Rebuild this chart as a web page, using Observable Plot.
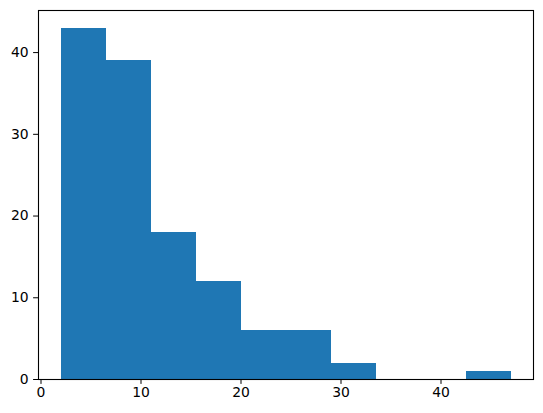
<!DOCTYPE html>
<html>
<head>
<meta charset="utf-8">
<script src="https://cdn.jsdelivr.net/npm/d3@7"></script>
<script src="https://cdn.jsdelivr.net/npm/@observablehq/plot@0.6"></script>
<style>
  html, body { margin: 0; padding: 0; background: #fff; }
  #chart svg { display: block; }
</style>
</head>
<body>
<div id="chart"></div>
<script>
const binEdges = [2, 6.5, 11, 15.5, 20, 24.5, 29, 33.5, 38, 42.5, 47];
const counts = [43, 39, 18, 12, 6, 6, 2, 0, 0, 1];
const xTicks = [0, 10, 20, 30, 40];
const yTicks = [0, 10, 20, 30, 40];

const bins = counts.map((c, i) => ({x1: binEdges[i], x2: binEdges[i + 1], count: c}));

const chart = Plot.plot({
  width: 543,
  height: 413,
  marginLeft: 38,
  marginRight: 10,
  marginTop: 10,
  marginBottom: 34,
  style: {fontFamily: "DejaVu Sans", fontSize: "13.9px", background: "#fff", color: "#000"},
  x: {domain: [-0.25, 49.25]},
  y: {domain: [0, 45.15]},
  marks: [
    Plot.rect(bins, {x1: "x1", x2: "x2", y1: 0, y2: "count", fill: "#1f77b4", shapeRendering: "crispEdges"}),
    Plot.axisX({ticks: xTicks, tickSize: 4.9, tickPadding: 3, label: null, fontSize: 13.9, stroke: "#000", tickFormat: d => String(d)}),
    Plot.axisY({ticks: yTicks, tickSize: 4.9, tickPadding: 4.9, label: null, fontSize: 13.9, stroke: "#000", tickFormat: d => String(d)}),
    Plot.frame({stroke: "#000", strokeWidth: 1.1})
  ]
});
document.getElementById("chart").appendChild(chart);
</script>
</body>
</html>
